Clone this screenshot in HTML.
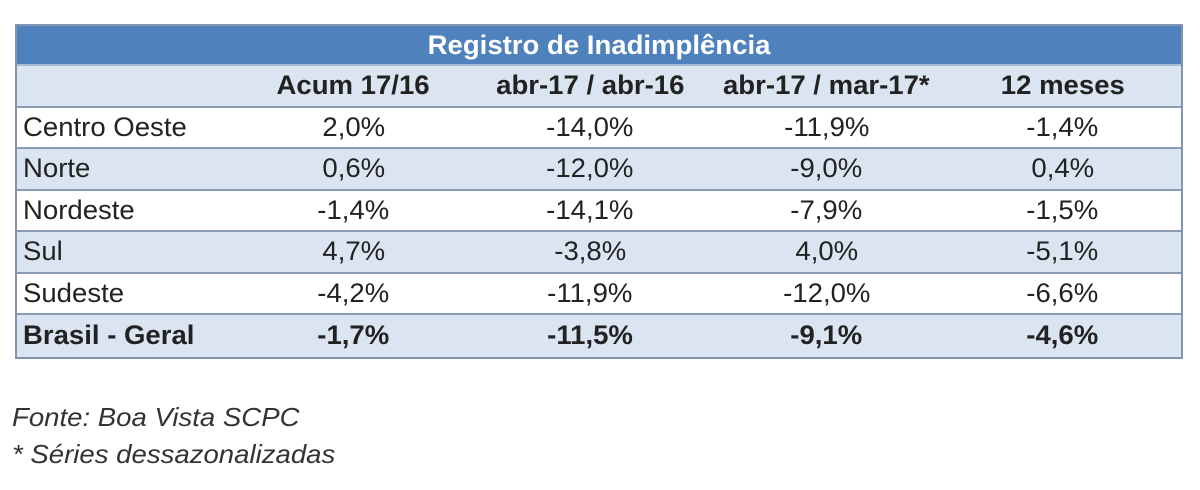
<!DOCTYPE html>
<html><head><meta charset="utf-8"><style>
body{margin:0;width:1200px;height:490px;background:#fff;font-family:"Liberation Sans",sans-serif;position:relative;overflow:hidden}
.t{position:absolute;left:15px;top:24px;width:1168px;border:2px solid #7f95b0;box-sizing:border-box}
.r{display:flex;height:41.5px;align-items:center;border-bottom:2px solid #8a9bb3;box-sizing:border-box;font-size:27px;color:#222}
.r:last-child{border-bottom:none}
.r div{text-align:center}
.r span{display:inline-block;transform:scaleX(1.02)}
.c0 span{transform-origin:left center}
.c0{width:220px;text-align:left!important;padding-left:6px;box-sizing:border-box}
.c1{width:235px}.c2{width:240px}.c3{width:235px}.c4{width:238px}
.ti{background:#4f81bd;color:#fff;justify-content:center;font-weight:bold;height:40px;border-bottom:2px solid #a9bcd6}
.h{background:#dbe5f1;font-weight:bold}
.w{background:#fff}.b{background:#dbe5f1}
.bold{font-weight:bold}
.f{position:absolute;left:12px;font-style:italic;font-size:26px;color:#333;transform:scaleX(1.06);transform-origin:left center}
</style></head><body>
<div class="t">
<div class="r ti"><span>Registro de Inadimplência</span></div>
<div class="r h"><div class="c0"></div><div class="c1"><span>Acum 17/16</span></div><div class="c2"><span>abr-17 / abr-16</span></div><div class="c3"><span>abr-17 / mar-17*</span></div><div class="c4"><span>12 meses</span></div></div>
<div class="r w"><div class="c0"><span>Centro Oeste</span></div><div class="c1"><span>2,0%</span></div><div class="c2"><span>-14,0%</span></div><div class="c3"><span>-11,9%</span></div><div class="c4"><span>-1,4%</span></div></div>
<div class="r b"><div class="c0"><span>Norte</span></div><div class="c1"><span>0,6%</span></div><div class="c2"><span>-12,0%</span></div><div class="c3"><span>-9,0%</span></div><div class="c4"><span>0,4%</span></div></div>
<div class="r w"><div class="c0"><span>Nordeste</span></div><div class="c1"><span>-1,4%</span></div><div class="c2"><span>-14,1%</span></div><div class="c3"><span>-7,9%</span></div><div class="c4"><span>-1,5%</span></div></div>
<div class="r b"><div class="c0"><span>Sul</span></div><div class="c1"><span>4,7%</span></div><div class="c2"><span>-3,8%</span></div><div class="c3"><span>4,0%</span></div><div class="c4"><span>-5,1%</span></div></div>
<div class="r w"><div class="c0"><span>Sudeste</span></div><div class="c1"><span>-4,2%</span></div><div class="c2"><span>-11,9%</span></div><div class="c3"><span>-12,0%</span></div><div class="c4"><span>-6,6%</span></div></div>
<div class="r b bold"><div class="c0"><span>Brasil - Geral</span></div><div class="c1"><span>-1,7%</span></div><div class="c2"><span>-11,5%</span></div><div class="c3"><span>-9,1%</span></div><div class="c4"><span>-4,6%</span></div></div>
</div>
<div class="f" style="top:402px">Fonte: Boa Vista SCPC</div>
<div class="f" style="top:439px">* Séries dessazonalizadas</div>
</body></html>
